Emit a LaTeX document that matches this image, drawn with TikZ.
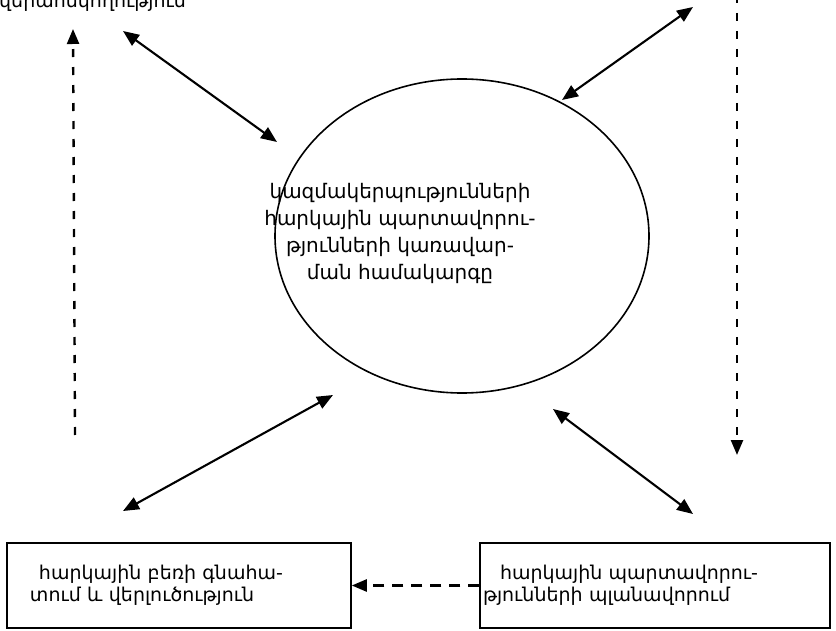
\documentclass[tikz,border=0pt]{standalone}
\usepackage{fontspec}
\setmainfont{DejaVu Sans}
\usetikzlibrary{arrows.meta,shapes.geometric}

\begin{document}
\begin{tikzpicture}[x=1pt,y=-1pt,system_node/.style={ellipse,draw,line width=1.6pt,minimum width=374pt,minimum height=314pt,inner sep=0pt},label_node/.style={font=\fontsize{20}{27}\selectfont,align=center,inner sep=0pt},box_node/.style={rectangle,draw,line width=1.5pt,minimum width=344pt,minimum height=85pt,align=left,font=\fontsize{19}{22}\selectfont},both_arrow/.style={{Triangle[length=16pt,width=13pt]}-{Triangle[length=16pt,width=13pt]},line width=2.1pt},dash_arrow/.style={-{Triangle[length=15pt,width=12pt]},line width=2.4pt,dash pattern=on 8pt off 10pt}]
		\useasboundingbox (0,0) rectangle (836,631);

		\node[system_node] (system) at (462,236) {};
		\node[label_node] (system_text) at (400,233) {կազմակերպությունների\\հարկային պարտավորու-\\թյունների կառավար-\\ման համակարգը};
		\node[label_node,font=\fontsize{19}{22}\selectfont,anchor=base west] (control) at (-1,8) {վերահսկողություն};
		\node[box_node,inner xsep=23pt,text width=298pt] (assess_box) at (179,585.5) {\hspace{9pt}հարկային բեռի գնահա-\\տում և  վերլուծություն};
		\node[box_node,inner xsep=3pt,text width=344pt,minimum width=350pt] (plan_box) at (655,585.5) {\hspace{17pt}հարկային պարտավորու-\\թյունների  պլանավորում};

		\coordinate (control_end) at (123,31);
		\coordinate (system_nw) at (277,142);
		\coordinate (top_right_end) at (693,7);
		\coordinate (system_ne) at (562,100);
		\coordinate (system_sw) at (333,395);
		\coordinate (assess_end) at (123,511);
		\coordinate (system_se) at (553,409);
		\coordinate (plan_end) at (693,514);
		\coordinate (right_top) at (737,-5);
		\coordinate (right_bottom) at (737,455);
		\coordinate (left_bottom) at (75,435);
		\coordinate (left_top) at (73,29);

		\draw[both_arrow] (control_end) -- (system_nw);
		\draw[both_arrow] (top_right_end) -- (system_ne);
		\draw[both_arrow] (system_sw) -- (assess_end);
		\draw[both_arrow] (system_se) -- (plan_end);
		\draw[dash_arrow] (right_top) -- (right_bottom);
		\draw[dash_arrow] (left_bottom) -- (left_top);
		\draw[dash_arrow,dash pattern=on 11pt off 8pt] (plan_box.west) -- (assess_box.east);
		\end{tikzpicture}
\end{document}
